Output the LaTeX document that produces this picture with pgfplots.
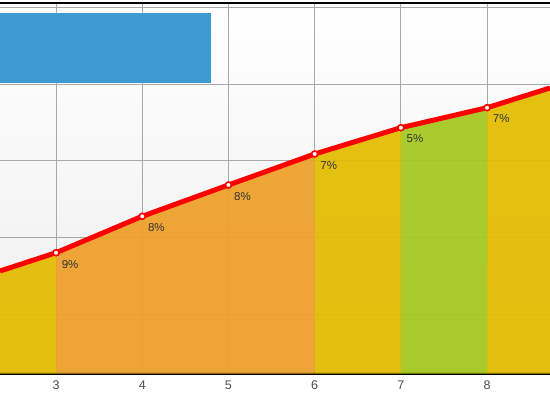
\documentclass[border=0pt]{standalone}
\usepackage{pgfplots}
\pgfplotsset{compat=1.18}
\usepackage{fontspec}
\setmainfont{Liberation Sans}
\definecolor{cyel}{HTML}{E3BC00}
\definecolor{cora}{HTML}{EEA028}
\definecolor{cgre}{HTML}{A5C81E}
\definecolor{cblue}{HTML}{3D9AD2}
\definecolor{cgrid}{HTML}{A8A8A8}
\begin{document}
\begin{tikzpicture}
\begin{axis}[
  scale only axis,
  width=550pt, height=370.5pt,
  xmin=2.35, xmax=8.73,
  ymin=0, ymax=370.5,
  separate axis lines,
  x axis line style={black, line width=2.3pt},
  y axis line style={draw=none},
  xtick={3,4,5,6,7,8},
  ytick={59.2,135.9,212.6,289.3,366},
  yticklabels={},
  major tick length=0pt,
  xmajorgrids, ymajorgrids,
  major grid style={cgrid, line width=0.8pt},
  xticklabel style={font=\fontsize{12.5pt}{13pt}\selectfont, text=black!70, yshift=-3.5pt},
  /pgf/number format/assume math mode=true,
  axis background/.style={shade, top color=white, bottom color=black!7},
  clip=true,
]
\addplot[fill=cyel, draw=none, fill opacity=0.93] coordinates {(2.35,102.5) (3,120.8)} \closedcycle;
\addplot[fill=cora, draw=none, fill opacity=0.93] coordinates {(3,120.8) (4,157.2) (5,188.5) (6,219.5)} \closedcycle;
\addplot[fill=cyel, draw=none, fill opacity=0.93] coordinates {(6,219.5) (7,245.8)} \closedcycle;
\addplot[fill=cgre, draw=none, fill opacity=0.93] coordinates {(7,245.8) (8,265.8)} \closedcycle;
\addplot[fill=cyel, draw=none, fill opacity=0.93] coordinates {(8,265.8) (8.73,285.5)} \closedcycle;
\addplot[red, line width=5pt, line join=round] coordinates {(2.35,102.5) (3,120.8) (4,157.2) (5,188.5) (6,219.5) (7,245.8) (8,265.8) (8.73,285.5)};
\addplot[only marks, mark=*, mark size=3pt, mark options={fill=white, draw=red, line width=1.6pt},
  nodes near coords, point meta=explicit symbolic,
  nodes near coords style={anchor=north west, inner sep=0pt, xshift=5pt, yshift=-6.5pt, font=\fontsize{11.5pt}{13pt}\selectfont, text=black!80}]
  coordinates {(3,120.8)[9\%] (4,157.2)[8\%] (5,188.5)[8\%] (6,219.5)[7\%] (7,245.8)[5\%] (8,265.8)[7\%]};
\fill[cblue] (rel axis cs:0,0.785) rectangle (rel axis cs:0.3836,0.973);
\end{axis}
\pgfresetboundingbox
\path[use as bounding box] (0,-26.5pt) rectangle (550pt,373.5pt);
\end{tikzpicture}
\end{document}
